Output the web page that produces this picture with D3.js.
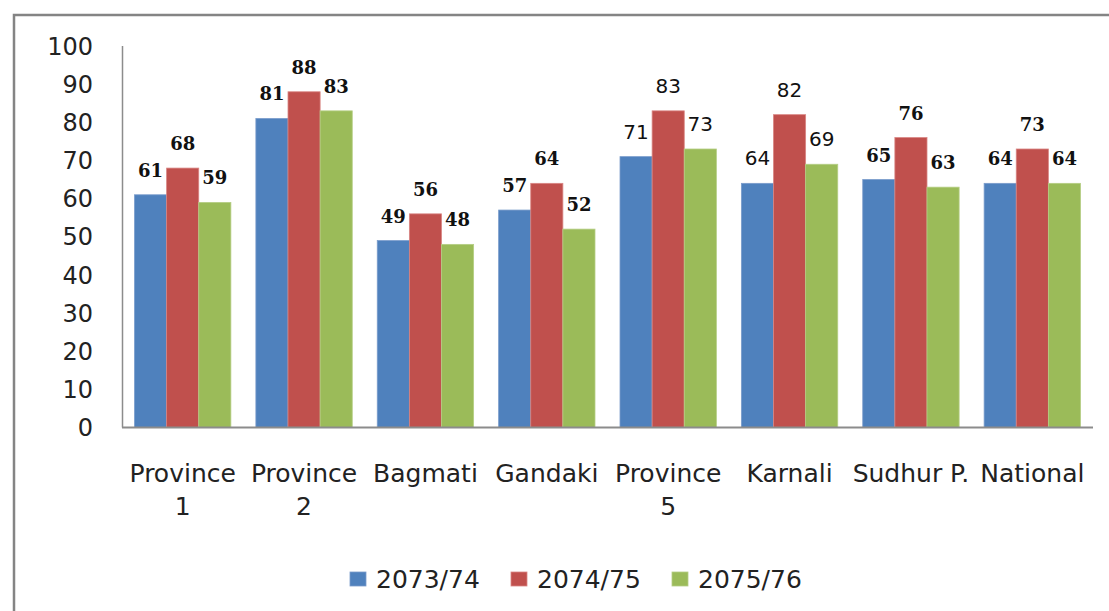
<!DOCTYPE html>
<meta charset="utf-8">
<style>
body { margin: 0; background: #fff; }
svg { display: block; }
.tick-label { font: 24px "DejaVu Sans", sans-serif; fill: #222; }
.cat-label { font: 25px "DejaVu Sans", sans-serif; fill: #222; }
.legend-label { font: 25px "DejaVu Sans", sans-serif; fill: #222; }
</style>
<body>
<script src="https://d3js.org/d3.v7.min.js"></script>
<script>

// Data
var categories = ["Province 1", "Province 2", "Bagmati", "Gandaki", "Province 5", "Karnali", "Sudhur P.", "National"];
var seriesNames = ["2073/74", "2074/75", "2075/76"];
var values2073 = [61, 81, 49, 57, 71, 64, 65, 64];
var values2074 = [68, 88, 56, 64, 83, 82, 76, 73];
var values2075 = [59, 83, 48, 52, 73, 69, 63, 64];
var yTicks = [0, 10, 20, 30, 40, 50, 60, 70, 80, 90, 100];
// groups whose value labels are drawn in plain (non bold) type
var plainLabelGroups = ["Province 5", "Karnali"];

var colors = ["#4F81BD", "#C0504D", "#9BBB59"];
var edges = ["#7A9CCB", "#D98583", "#B5CE84"];

var width = 1109, height = 611;
var margin = {top: 46, right: 16, bottom: 183, left: 122};

var svg = d3.select("body").append("svg")
    .attr("width", width)
    .attr("height", height);

// outer frame (runs off the right and bottom of the picture)
svg.append("rect")
    .attr("x", 14).attr("y", 15)
    .attr("width", 1200).attr("height", 700)
    .attr("fill", "none")
    .attr("stroke", "#848484")
    .attr("stroke-width", 2.5);

var x0 = d3.scaleBand()
    .domain(categories)
    .range([margin.left, width - margin.right])
    .paddingInner(0.206)
    .paddingOuter(0.103);

var x1 = d3.scaleBand()
    .domain(seriesNames)
    .range([0, x0.bandwidth()]);

var y = d3.scaleLinear()
    .domain([0, 100])
    .range([height - margin.bottom + 0.5 - 1, margin.top]);

var data = categories.map(function(c, i) {
  return {
    cat: c,
    vals: [values2073[i], values2074[i], values2075[i]].map(function(v, j) {
      return {series: seriesNames[j], value: v, idx: j};
    })
  };
});

// y tick labels (no tick marks, just text)
svg.append("g").selectAll("text")
    .data(yTicks)
    .enter().append("text")
      .attr("class", "tick-label")
      .attr("x", 93)
      .attr("y", function(d) { return y(d); })
      .attr("dy", "0.36em")
      .attr("text-anchor", "end")
      .text(function(d) { return d; });

// bars
var groups = svg.append("g").selectAll("g")
    .data(data)
    .enter().append("g")
      .attr("transform", function(d) { return "translate(" + x0(d.cat) + ",0)"; });

groups.selectAll("rect")
    .data(function(d) { return d.vals; })
    .enter().append("rect")
      .attr("x", function(d) { return x1(d.series); })
      .attr("y", function(d) { return y(d.value); })
      .attr("width", x1.bandwidth())
      .attr("height", function(d) { return y(0) - y(d.value); })
      .attr("fill", function(d) { return colors[d.idx]; })
      .attr("stroke", function(d) { return edges[d.idx]; })
      .attr("stroke-width", 0.8);

// value labels
groups.selectAll("text")
    .data(function(d) {
      return d.vals.map(function(v) { return {v: v, plain: plainLabelGroups.indexOf(d.cat) >= 0}; });
    })
    .enter().append("text")
      .attr("x", function(d) { return x1(d.v.series) + x1.bandwidth() / 2; })
      .attr("y", function(d) { return y(d.v.value) - 18; })
      .attr("text-anchor", "middle")
      .style("font-family", function(d) { return d.plain ? "'DejaVu Sans', sans-serif" : "'DejaVu Serif', serif"; })
      .style("font-weight", function(d) { return d.plain ? "normal" : "bold"; })
      .style("font-size", function(d) { return d.plain ? "20px" : "18px"; })
      .style("fill", "#111")
      .text(function(d) { return d.v.value; });

// axes lines
var axisColor = "#8c8c8c";
svg.append("line")
    .attr("x1", margin.left + 0.5).attr("x2", margin.left + 0.5)
    .attr("y1", margin.top).attr("y2", y(0))
    .attr("stroke", axisColor).attr("stroke-width", 1.5);
svg.append("line")
    .attr("x1", margin.left).attr("x2", width - margin.right)
    .attr("y1", y(0)).attr("y2", y(0))
    .attr("stroke", axisColor).attr("stroke-width", 2);

// category labels, "Province N" wraps onto two lines
var catText = svg.append("g").selectAll("text")
    .data(categories)
    .enter().append("text")
      .attr("class", "cat-label")
      .attr("text-anchor", "middle")
      .attr("transform", function(d) { return "translate(" + (x0(d) + x0.bandwidth() / 2) + ",482)"; });

catText.each(function(d) {
  var lines = d.indexOf("Province") === 0 ? d.split(" ") : [d];
  d3.select(this).selectAll("tspan")
    .data(lines)
    .enter().append("tspan")
      .attr("x", 0)
      .attr("y", function(l, i) { return i * 33; })
      .text(function(l) { return l; });
});

// legend
var legend = svg.append("g").selectAll("g")
    .data(seriesNames)
    .enter().append("g")
      .attr("transform", function(d, i) { return "translate(" + (350 + i * 161) + ",572)"; });

legend.append("rect")
    .attr("width", 16).attr("height", 14)
    .attr("fill", function(d, i) { return colors[i]; })
    .attr("stroke", function(d, i) { return edges[i]; })
    .attr("stroke-width", 0.8);

legend.append("text")
    .attr("class", "legend-label")
    .attr("x", 26)
    .attr("y", 7)
    .attr("dy", "0.36em")
    .text(function(d) { return d; });

</script>
</body>
